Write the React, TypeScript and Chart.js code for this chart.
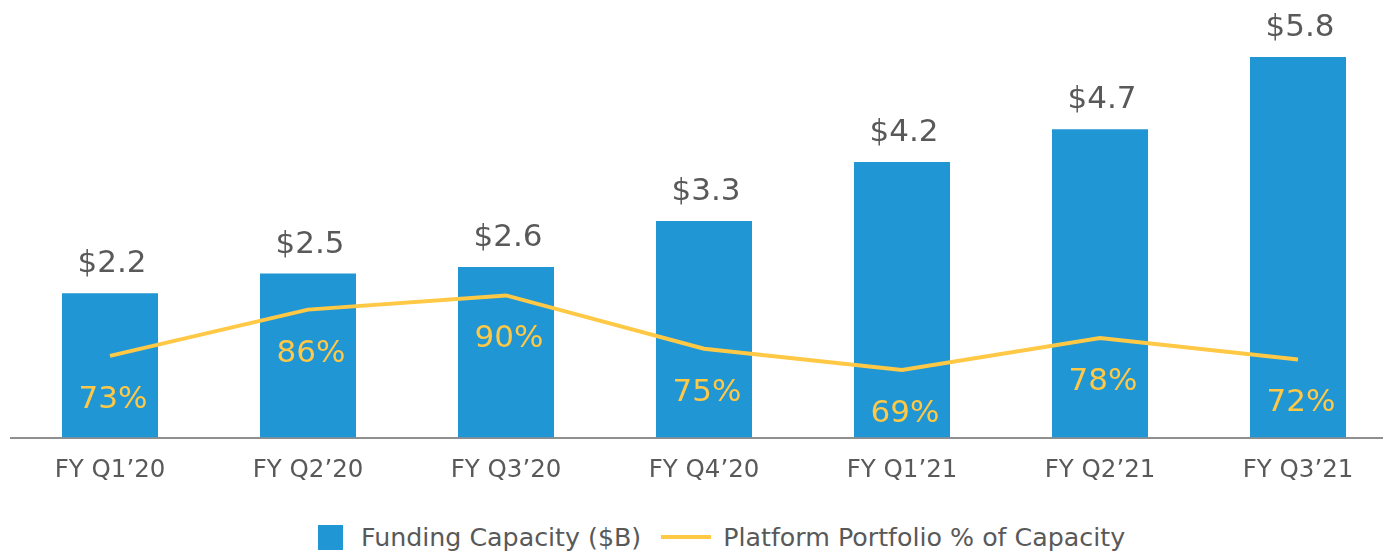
import React, { useEffect, useRef } from "react";
import { Chart, registerables } from "chart.js";

Chart.register(...registerables);

const categories = ["FY Q1\u201920", "FY Q2\u201920", "FY Q3\u201920", "FY Q4\u201920", "FY Q1\u201921", "FY Q2\u201921", "FY Q3\u201921"];
const fundingCapacity = [2.2, 2.5, 2.6, 3.3, 4.2, 4.7, 5.8];
const portfolioPct = [73, 86, 90, 75, 69, 78, 72];

const BLUE = "#2196D4";
const YELLOW = "#FFC845";
const GRAY_TEXT = "#595959";
const FONT = "'DejaVu Sans', Verdana, sans-serif";

const labelPlugin = {
  id: "valueLabels",
  afterDatasetsDraw(chart: any) {
    const ctx = chart.ctx;
    ctx.save();
    ctx.font = `31px ${FONT}`;
    ctx.textAlign = "center";
    ctx.textBaseline = "middle";
    const barMeta = chart.getDatasetMeta(0);
    barMeta.data.forEach((el: any, i: number) => {
      ctx.fillStyle = GRAY_TEXT;
      ctx.fillText("$" + fundingCapacity[i].toFixed(1), el.x + 2, el.y - 29);
    });
    const lineMeta = chart.getDatasetMeta(1);
    lineMeta.data.forEach((el: any, i: number) => {
      ctx.fillStyle = YELLOW;
      ctx.fillText(portfolioPct[i] + "%", el.x + 3, el.y + 44);
    });
    ctx.restore();
  },
};

export default function App() {
  const ref = useRef<HTMLCanvasElement>(null);
  useEffect(() => {
    if (!ref.current) return;
    const chart = new Chart(ref.current, {
      type: "bar",
      data: {
        labels: categories,
        datasets: [
          {
            type: "bar",
            label: "Funding Capacity ($B)",
            data: fundingCapacity,
            backgroundColor: BLUE,
            borderWidth: 0,
            categoryPercentage: 1,
            barPercentage: 0.485,
            yAxisID: "y",
            order: 2,
          },
          {
            type: "line",
            label: "Platform Portfolio % of Capacity",
            data: portfolioPct,
            borderColor: YELLOW,
            backgroundColor: YELLOW,
            borderWidth: 4,
            pointRadius: 0,
            tension: 0,
            yAxisID: "y1",
            order: 1,
          } as any,
        ],
      },
      options: {
        animation: false,
        responsive: false,
        maintainAspectRatio: false,
        layout: { padding: { top: 11, left: 11, right: 0, bottom: 0 } },
        plugins: {
          legend: { display: false },
          tooltip: { enabled: false },
        },
        scales: {
          x: {
            grid: { display: false, drawTicks: false },
            border: { display: true, color: "#8f8f8f", width: 2 },
            ticks: {
              color: GRAY_TEXT,
              font: { family: FONT, size: 24.5 },
              padding: 18,
            },
          },
          y: {
            display: false,
            min: 0,
            max: 6.5,
          },
          y1: {
            display: false,
            min: 50,
            max: 170,
          },
        },
      },
      plugins: [labelPlugin],
    });
    return () => chart.destroy();
  }, []);

  return (
    <div style={{ position: "fixed", left: 0, top: 0, width: 1383, height: 552, background: "#fff", fontFamily: FONT, overflow: "hidden" }}>
      <canvas ref={ref} width={1397} height={503} style={{ display: "block", width: 1397, height: 503 }} />
      <div
        style={{
          position: "absolute",
          left: 318,
          top: 524,
          height: 26,
          display: "flex",
          alignItems: "center",
          fontSize: 25.3,
          color: GRAY_TEXT,
          whiteSpace: "nowrap",
        }}
      >
        <span style={{ display: "inline-block", width: 25, height: 25, background: BLUE, marginRight: 18 }} />
        <span>Funding Capacity ($B)</span>
        <span style={{ display: "inline-block", width: 50, height: 4, background: YELLOW, marginLeft: 20, marginRight: 12 }} />
        <span>Platform Portfolio % of Capacity</span>
      </div>
    </div>
  );
}
